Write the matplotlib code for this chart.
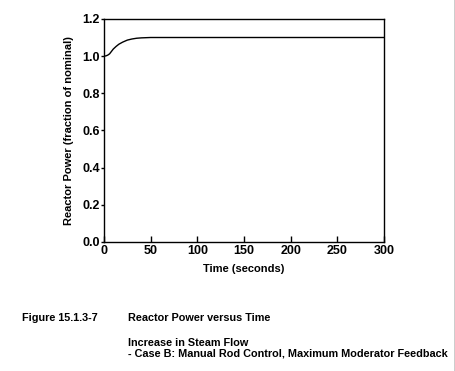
import matplotlib
matplotlib.use("Agg")
import matplotlib.pyplot as plt

time_s = [0, 2, 4, 6, 8, 10, 13, 16, 20, 25, 30, 35, 40, 50, 60, 100, 150, 200, 250, 300]
power = [1.0, 1.001, 1.005, 1.012, 1.025, 1.038, 1.052, 1.064, 1.075, 1.086, 1.092, 1.096, 1.098, 1.1, 1.1, 1.1, 1.1, 1.1, 1.1, 1.1]

plt.rcParams['font.family'] = ['Liberation Sans', 'DejaVu Sans']
plt.rcParams['font.weight'] = 'bold'

fig = plt.figure(figsize=(4.56, 3.71), dpi=100)
ax = fig.add_axes([0.228, 0.348, 0.614, 0.601])
ax.plot(time_s, power, color='black', lw=1.0)
ax.set_xlim(0, 300)
ax.set_ylim(0, 1.2)
ax.set_xticks([0, 50, 100, 150, 200, 250, 300])
ax.set_yticks([0.0, 0.2, 0.4, 0.6, 0.8, 1.0, 1.2])
ax.set_yticklabels(['0.0', '0.2', '0.4', '0.6', '0.8', '1.0', '1.2'])
ax.tick_params(axis='x', direction='in', length=4, width=1, labelsize=9, pad=2)
ax.tick_params(axis='y', direction='out', length=2.5, width=1, labelsize=9, pad=0.5)
for s in ax.spines.values():
    s.set_linewidth(1.0)
ax.set_xlabel('Time (seconds)', fontsize=8, fontweight='bold', labelpad=5)
ax.set_ylabel('Reactor Power (fraction of nominal)', fontsize=8, fontweight='bold', labelpad=6)

cap = dict(fontsize=7.85, fontweight='bold', va='center')
fig.text(22 / 456, 1 - 318 / 371, 'Figure 15.1.3-7', **cap)
fig.text(128 / 456, 1 - 318 / 371, 'Reactor Power versus Time', **cap)
fig.text(128 / 456, 1 - 343 / 371, 'Increase in Steam Flow', **cap)
fig.text(128 / 456, 1 - 354 / 371, '- Case B: Manual Rod Control, Maximum Moderator Feedback', **cap)
fig.add_artist(plt.Line2D([0.9985, 0.9985], [0, 1], color='black', lw=1, transform=fig.transFigure))

fig.savefig('out.png', dpi=100)
